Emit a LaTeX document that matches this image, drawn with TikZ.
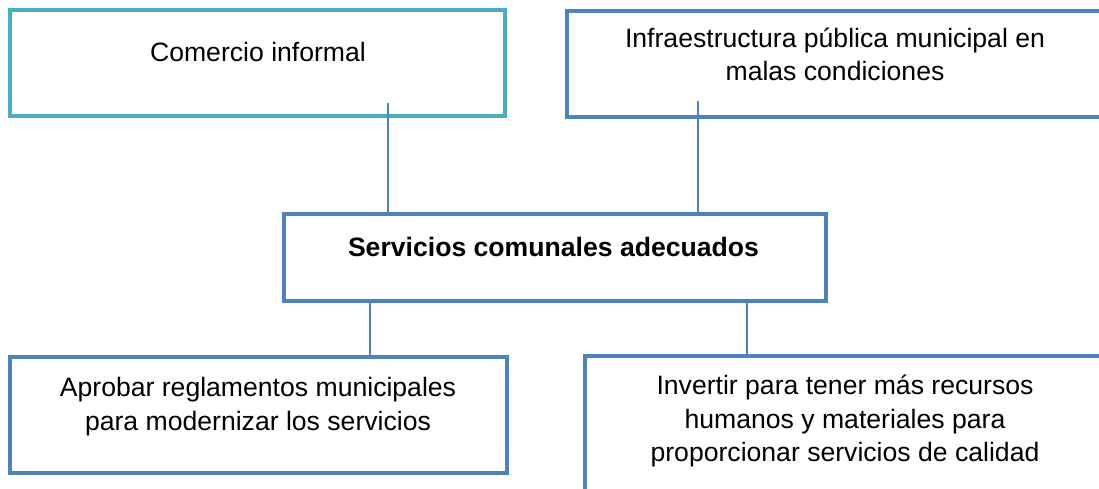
\documentclass[tikz,border=0pt]{standalone}
\usepackage{fontspec}
\setmainfont{Liberation Sans}
\definecolor{boxcyan}{HTML}{4BACC6}
\definecolor{boxblue}{HTML}{4F81BD}
\newcommand{\topstrut}{\rule{0pt}{26pt}}
\begin{document}
\begin{tikzpicture}[x=1pt,y=-1pt,
  box/.style={draw=boxblue, line width=4.2pt, rectangle, inner sep=0pt, outer sep=0pt},
  txt/.style={anchor=north, align=center, inner sep=0pt, text=black,
              font=\fontsize{26.6}{33.8}\selectfont},
  link/.style={draw=boxblue, line width=1.5pt}]
\useasboundingbox (0,0) rectangle (1099,489);
\clip (0,0) rectangle (1099,489);

% boxes
\node[box, draw=boxcyan, minimum width=495pt, minimum height=106pt] (b1) at (257.5,63) {};
\node[box, minimum width=536pt, minimum height=106pt] (b2) at (835,64) {};
\node[box, minimum width=542pt, minimum height=87pt] (bc) at (555,257.5) {};
\node[box, minimum width=497pt, minimum height=116pt] (b3) at (258.5,415) {};
\node[box, minimum width=520pt, minimum height=164pt] (b4) at (845,438) {};

% texts
\node[txt] (t1) at (258,35) {\topstrut Comercio informal};
\node[txt] (t2) at (835,21) {\topstrut Infraestructura pública municipal en\\ malas condiciones};
\node[txt, font=\fontsize{26.6}{33.8}\selectfont\bfseries] (tc) at (553.5,230) {\topstrut Servicios comunales adecuados};
\node[txt] (t3) at (258,370) {\topstrut Aprobar reglamentos municipales\\ para modernizar los servicios};
\node[txt] (t4) at (845,368) {\topstrut Invertir para tener más recursos\\ humanos y materiales para\\ proporcionar servicios de calidad};

% connector start points inside the upper boxes
\coordinate (s1) at (388,103);
\coordinate (s2) at (698,101);
\coordinate (s3) at (370,0);
\coordinate (s4) at (747,0);

\draw[link] (s1) -- (s1 |- bc.north);
\draw[link] (s2) -- (s2 |- bc.north);
\draw[link] (s3 |- bc.south) -- (s3 |- b3.north);
\draw[link] (s4 |- bc.south) -- (s4 |- b4.north);
\end{tikzpicture}
\end{document}
